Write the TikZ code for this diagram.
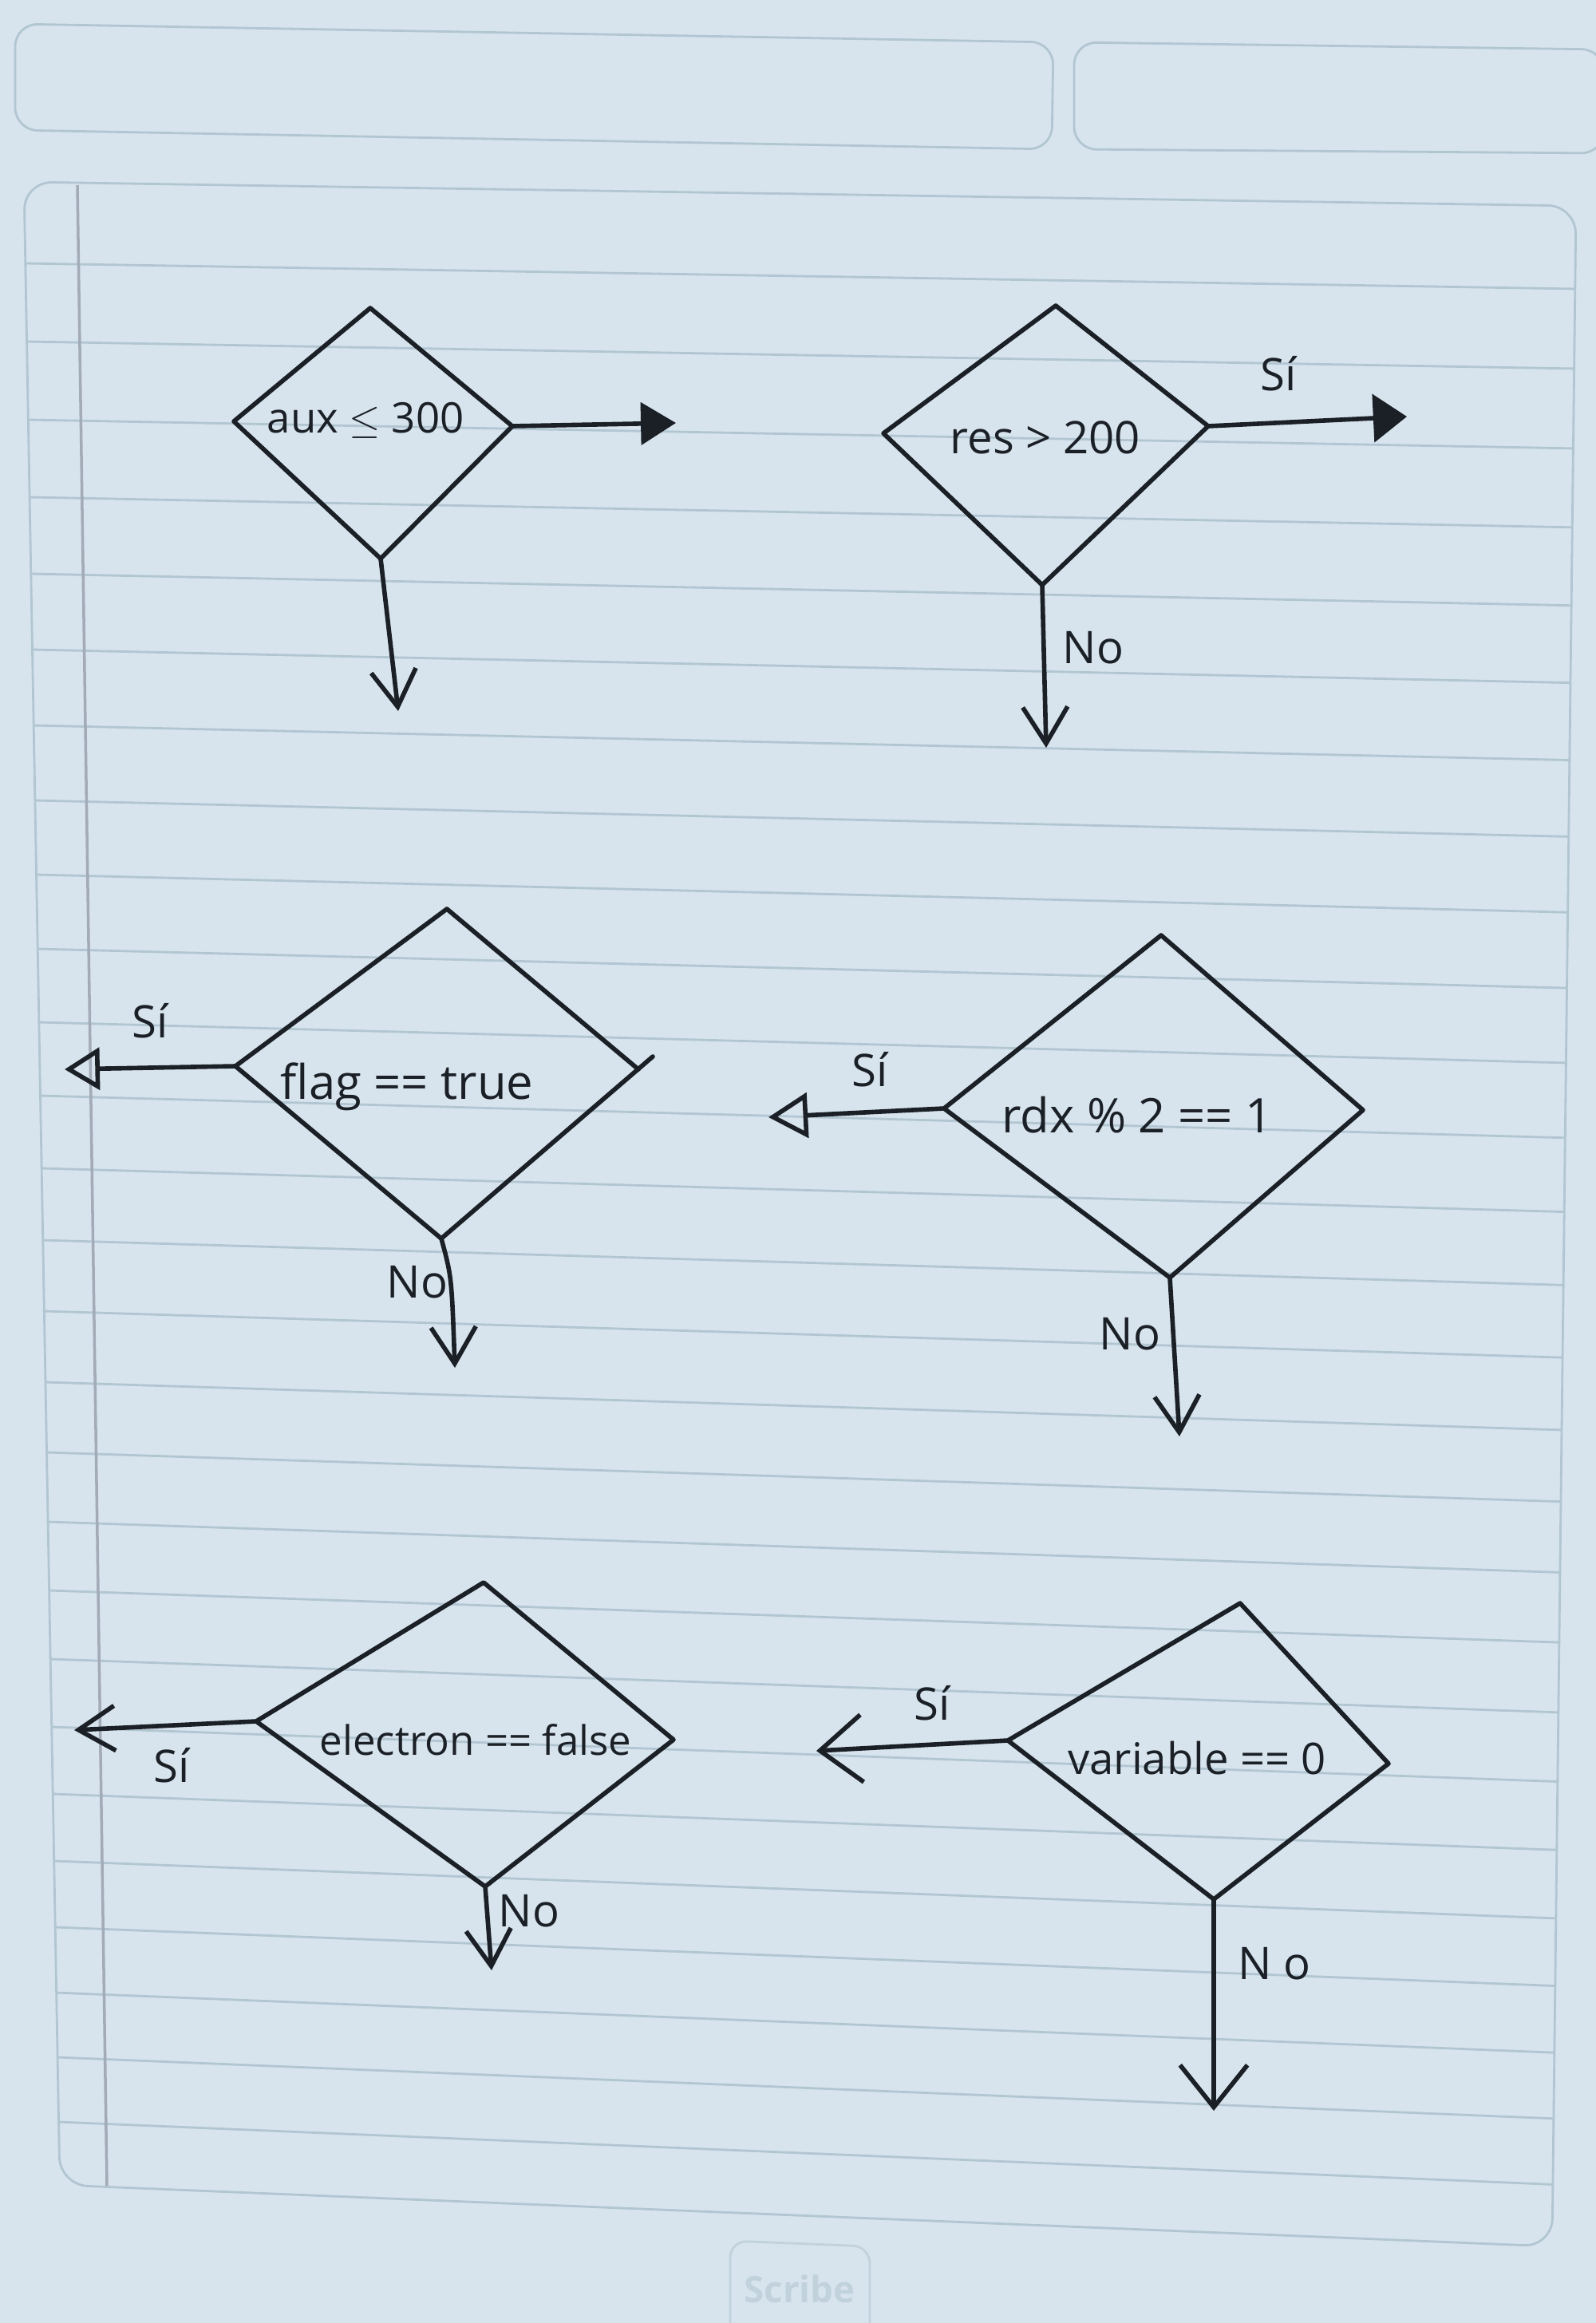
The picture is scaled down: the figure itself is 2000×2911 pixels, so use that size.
\documentclass[tikz,border=0pt]{standalone}
\usepackage{fontspec}
\setmainfont{Open Sans}
\usetikzlibrary{arrows.meta}
\definecolor{paper}{HTML}{D7E4EE}
\definecolor{rulec}{HTML}{B2C6D2}
\definecolor{brandc}{HTML}{C2D2DD}
\definecolor{inkc}{HTML}{1B2026}
\definecolor{marginc}{HTML}{A3AAB8}
\begin{document}
\begin{tikzpicture}[x=0.01cm,y=-0.01cm,
  pen/.style={draw=inkc, line width=1.6pt, line join=round, line cap=round},
  cond/.style={text=inkc, font=\fontsize{16}{18}\selectfont, inner sep=0pt},
  lbl/.style={text=inkc, font=\fontsize{16}{18}\selectfont, inner sep=0pt},
  solidhead/.style={-{Triangle[length=12.5pt,width=15pt]}},
  openhead/.style={-{Triangle[open,length=12.5pt,width=15pt]}},
  vhead/.style={-{Straight Barb[length=13pt,width=16pt]}},
  vheadbig/.style={-{Straight Barb[length=15pt,width=24pt]}},
  ruleline/.style={draw=rulec, line width=0.8pt},
]
% paper
\fill[paper] (0,0) rectangle (2000,2911);
\useasboundingbox (0,0) rectangle (2000,2911);
\draw[ruleline, rounded corners=8pt] (19,30) -- (1320,53) -- (1318,187) -- (19,163) -- cycle;
\draw[ruleline, rounded corners=8pt] (1346,53) -- (2010,62) -- (2010,192) -- (1346,187) -- cycle;
\draw[ruleline, rounded corners=10pt] (30,228) -- (1975,258) -- (1945,2815) -- (75,2738) -- cycle;
\foreach \yy in {330,428,526,623,719,814,909,1003,1096,1189,1281,1373,1464,1554,1643,1732,1820,1907,1993,2079,2164,2248,2332,2415,2497,2578,2659}{
  \pgfmathsetmacro{\ff}{(\yy-230)/2510}
  \pgfmathsetmacro{\dd}{30+50*\ff}
  \pgfmathsetmacro{\xl}{30+45*\ff}
  \pgfmathsetmacro{\xr}{1975-30*\ff}
  \draw[ruleline] (\xl,\yy) -- (\xr,{\yy+\dd});
}
\draw[draw=marginc, line width=1pt] (97,232) -- (134,2739);
\draw[draw=brandc, line width=0.8pt, rounded corners=6pt] (915,2930) -- (915,2808) -- (1090,2815) -- (1090,2940);
\node[font=\bfseries\fontsize{13}{15}\selectfont, text=brandc] (brand) at (1002,2868) {Scribe};

% ---- D1: aux <= 300
\coordinate (aT) at (464,386);
\coordinate (aL) at (293,528);
\coordinate (aR) at (642,534);
\coordinate (aB) at (477,700);
\draw[pen] (aT) -- (aR) -- (aB) -- (aL) -- cycle;
\node[cond, font=\fontsize{15}{17}\selectfont] (aTxt) at (458,527) {aux $\leq$ 300};
\coordinate (aYes) at (847,530);
\coordinate (aNo) at (499,891);
\draw[pen, solidhead] (aR) -- (aYes);
\draw[pen, vhead] (aB) -- (aNo);

% ---- D2: res > 200
\coordinate (bT) at (1323,383);
\coordinate (bL) at (1107,543);
\coordinate (bR) at (1514,534);
\coordinate (bB) at (1306,733);
\draw[pen] (bT) -- (bR) -- (bB) -- (bL) -- cycle;
\node[cond] (bTxt) at (1310,548) {res > 200};
\coordinate (bYes) at (1763,522);
\coordinate (bNo) at (1311,937);
\draw[pen, -{Triangle[length=12pt,width=17pt]}] (bR) -- (bYes);
\draw[pen, vhead] (bB) -- (bNo);
\node[lbl] (bSi) at (1602,468) {Sí};
\node[lbl] (bNoL) at (1370,812) {No};

% ---- D3: flag == true
\coordinate (cT) at (560,1139);
\coordinate (cL) at (295,1336);
\coordinate (cR) at (800,1340);
\coordinate (cRx) at (818,1324);
\coordinate (cB) at (553,1552);
\draw[pen] (cL) -- (cT) -- (cR);
\draw[pen] (cL) -- (cB) -- (cRx);
\node[cond, font=\fontsize{17}{19}\selectfont] (cTxt) at (510,1362) {flag == true};
\coordinate (cYes) at (81,1340);
\coordinate (cNo) at (570,1714);
\draw[pen, openhead] (cL) -- (cYes);
\draw[pen, vhead] (cB) .. controls (566,1600) .. (cNo);
\node[lbl] (cSi) at (188,1279) {Sí};
\node[lbl] (cNoL) at (523,1607) {No};

% ---- D4: rdx % 2 == 1
\coordinate (dT) at (1455,1172);
\coordinate (dL) at (1183,1389);
\coordinate (dR) at (1708,1391);
\coordinate (dB) at (1466,1601);
\draw[pen] (dT) -- (dR) -- (dB) -- (dL) -- cycle;
\node[cond, font=\fontsize{17}{19}\selectfont] (dTxt) at (1425,1397) {rdx \% 2 == 1};
\coordinate (dYes) at (963,1400);
\coordinate (dNo) at (1478,1800);
\draw[pen, -{Triangle[open,length=14pt,width=16pt]}] (dL) -- (dYes);
\draw[pen, vhead] (dB) -- (dNo);
\node[lbl] (dSi) at (1090,1340) {Sí};
\node[lbl] (dNoL) at (1416,1672) {No};

% ---- D5: electron == false
\coordinate (eT) at (606,1983);
\coordinate (eL) at (321,2157);
\coordinate (eR) at (844,2180);
\coordinate (eB) at (608,2364);
\draw[pen] (eT) -- (eR) -- (eB) -- (eL) -- cycle;
\node[cond, font=\fontsize{14.5}{17}\selectfont] (eTxt) at (596,2180) {electron == false};
\coordinate (eYes) at (93,2168);
\coordinate (eNo) at (616,2469);
\draw[pen, vhead] (eL) -- (eYes);
\draw[pen, vhead] (eB) -- (eNo);
\node[lbl] (eSi) at (215,2212) {Sí};
\node[lbl] (eNoL) at (663,2395) {No};

% ---- D6: variable == 0
\coordinate (fT) at (1554,2009);
\coordinate (fL) at (1263,2181);
\coordinate (fR) at (1740,2210);
\coordinate (fB) at (1521,2380);
\draw[pen] (fT) -- (fR) -- (fB) -- (fL) -- cycle;
\node[cond, font=\fontsize{15.5}{18}\selectfont] (fTxt) at (1500,2203) {variable == 0};
\coordinate (fYes) at (1023,2194);
\coordinate (fNo) at (1521,2645);
\draw[pen, vheadbig] (fL) -- (fYes);
\draw[pen, vheadbig] (fB) -- (fNo);
\node[lbl] (fSi) at (1168,2134) {Sí};
\node[lbl] (fNoL) at (1597,2461) {N\hspace{0.25em}o};
\end{tikzpicture}
\end{document}
